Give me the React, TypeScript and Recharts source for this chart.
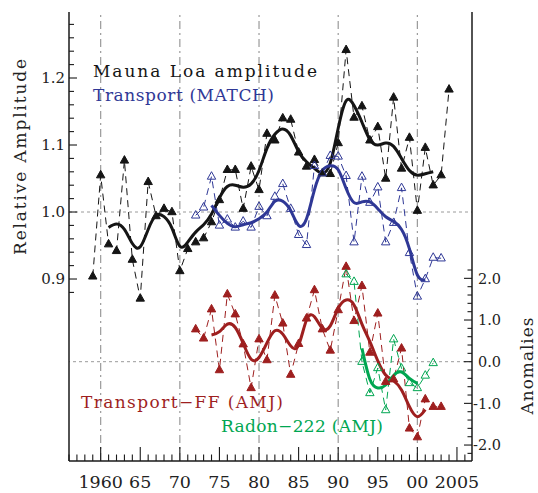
import React from 'react';
import { ComposedChart, Line, XAxis, YAxis, ReferenceLine } from 'recharts';

const FONT = '"DejaVu Serif", serif';
const AXIS = '#1a1a1a';
const BLACK = '#151515';
const BLUE = '#2f3896';
const RED = '#9e1f1f';
const GREEN = '#00a651';
const GRID = '#9a9a9a';

// Mauna Loa seasonal amplitude (relative), yearly values and smoothed fit
const maunaLoaStart = 1959;
const maunaLoaYearly = [
  0.904, 1.055, 0.952, 0.942, 1.077, 0.929, 0.871, 1.045, 0.994, 1.005, 1.0, 0.912,
  0.945, 0.955, 0.961, 0.985, 1.018, 1.063, 1.063, 1.005, 1.068, 1.033, 1.117, 1.107,
  1.14, 1.138, 1.089, 1.068, 1.078, 1.058, 1.057, 1.103, 1.242, 1.141, 1.158, 1.107,
  1.127, 1.05, 1.171, 1.065, 1.111, 1.002, 1.096, 1.04, 1.055, 1.183,
];
const maunaLoaSmoothStart = 1961;
const maunaLoaSmooth = [
  0.977, 0.982, 0.974, 0.953, 0.948, 0.974, 0.995, 0.993, 0.976, 0.949, 0.955, 0.97,
  0.981, 0.997, 1.021, 1.038, 1.04, 1.037, 1.042, 1.062, 1.095, 1.116, 1.124, 1.114,
  1.09, 1.075, 1.065, 1.058, 1.073, 1.125, 1.166, 1.159, 1.134, 1.108, 1.1, 1.103,
  1.098, 1.08, 1.062, 1.055, 1.057, 1.06,
];

// Transport (MATCH)
const matchStart = 1972;
const matchYearly = [
  0.995, 1.007, 1.053, 0.98, 0.989, 0.977, 0.986, 0.977, 1.008, 0.994, 1.023, 1.042,
  1.005, 0.966, 0.951, 1.069, 1.058, 1.084, 1.083, 1.054, 0.955, 1.053, 1.014, 1.037,
  0.955, 0.984, 1.036, 0.939, 0.874, 0.9, 0.932, 0.931,
];
const matchSmoothStart = 1974;
const matchSmooth = [
  1.01, 0.995, 0.983, 0.978, 0.981, 0.984, 0.99, 1.0, 1.016, 1.016, 1.002, 0.98,
  0.99, 1.033, 1.062, 1.069, 1.063, 1.035, 1.014, 1.015, 1.015, 1.005, 0.993, 0.986,
  0.974, 0.945, 0.906, 0.899,
];

// Transport-FF (AMJ) anomalies
const ffStart = 1972;
const ffYearly = [
  0.78, 0.56, 1.26, -0.2, 1.62, 1.14, 0.42, -0.63, 0.54, 0.04, 1.59, 0.92,
  -0.31, 0.43, 1.04, 1.72, 0.78, 0.27, 1.24, 2.28, 0.98, 1.82, 0.22, 1.16,
  -0.48, -0.42, 0.32, -1.6, -1.81, -0.9, -1.08, -1.08,
];
const ffSmoothStart = 1974;
const ffSmooth = [
  0.64, 0.72, 0.9, 0.82, 0.44, 0.06, 0.1, 0.45, 0.74, 0.66, 0.38, 0.4,
  1.0, 1.08, 0.8, 0.86, 1.28, 1.48, 1.36, 0.9, 0.48, 0.02, -0.32, -0.46,
  -0.68, -1.08, -1.32, -1.15,
];

// Radon-222 (AMJ) anomalies
const radonStart = 1991;
const radonYearly = [2.1, 1.92, 0.0, -0.75, -0.15, -1.16, 0.54, -0.16, -0.51, -0.63, -0.33, -0.03];
const radonSmoothStart = 1993;
const radonSmooth = [0.32, -0.42, -0.63, -0.56, -0.33, -0.25, -0.4, -0.52];

const firstYear = 1959;
const lastYear = 2004;

const xTickYears = [1960, 1965, 1970, 1975, 1980, 1985, 1990, 1995, 2000, 2005];
const xTickLabels = ['1960', '65', '70', '75', '80', '85', '90', '95', '00', '2005'];
const decadeLines = [1960, 1970, 1980, 1990, 2000];

const leftMajor = [0.9, 1.0, 1.1, 1.2];
const leftTicks = [
  0.88, 0.9, 0.92, 0.94, 0.96, 0.98, 1.0, 1.02, 1.04, 1.06, 1.08, 1.1, 1.12, 1.14, 1.16,
  1.18, 1.2, 1.22, 1.24, 1.26, 1.28,
];
const rightMajor = [-2, -1, 0, 1, 2];
const rightTicks = [
  -2.2, -2.0, -1.8, -1.6, -1.4, -1.2, -1.0, -0.8, -0.6, -0.4, -0.2, 0, 0.2, 0.4, 0.6, 0.8,
  1.0, 1.2, 1.4, 1.6, 1.8, 2.0, 2.2,
];

const pick = (arr: number[], start: number, year: number) => {
  const i = year - start;
  return i >= 0 && i < arr.length ? arr[i] : null;
};

const data: any[] = [];
for (let year = firstYear; year <= lastYear; year++) {
  data.push({
    year,
    mlo: pick(maunaLoaYearly, maunaLoaStart, year),
    mloFit: pick(maunaLoaSmooth, maunaLoaSmoothStart, year),
    match: pick(matchYearly, matchStart, year),
    matchFit: pick(matchSmooth, matchSmoothStart, year),
    ff: pick(ffYearly, ffStart, year),
    ffFit: pick(ffSmooth, ffSmoothStart, year),
    radon: pick(radonYearly, radonStart, year),
    radonFit: pick(radonSmooth, radonSmoothStart, year),
  });
}

const allYears: number[] = [];
for (let y = 1956; y <= 2006; y++) allYears.push(y);

const near = (a: number, list: number[]) => list.some((b) => Math.abs(a - b) < 1e-6);

const triangle = (color: string, filled: boolean) => (p: any) => {
  const { cx, cy, index } = p;
  if (cx == null || cy == null || p.value == null) return <g key={`e-${index}`} />;
  const pts = `${cx},${cy - 4.8} ${cx - 4.2},${cy + 2.7} ${cx + 4.2},${cy + 2.7}`;
  return (
    <polygon
      key={`t-${index}`}
      points={pts}
      fill={filled ? color : '#fff'}
      fillOpacity={filled ? 1 : 0}
      stroke={color}
      strokeWidth={1}
    />
  );
};

const BottomTick = (props: any) => {
  const { x, y, payload } = props;
  const v = payload.value;
  const major = v % 5 === 0;
  const idx = xTickYears.indexOf(v);
  return (
    <g>
      <line x1={x} x2={x} y1={y} y2={y - (major ? 14 : 6.5)} stroke={AXIS} strokeWidth={1.1} />
      {idx >= 0 && (
        <text x={x} y={y + 27} textAnchor="middle" fontSize={17.5} fontFamily={FONT} fill="#222">
          {xTickLabels[idx]}
        </text>
      )}
    </g>
  );
};

const TopTick = (props: any) => {
  const { x, y, payload } = props;
  const major = payload.value % 5 === 0;
  return <line x1={x} x2={x} y1={y} y2={y + (major ? 14 : 6.5)} stroke={AXIS} strokeWidth={1.1} />;
};

const LeftTick = (props: any) => {
  const { x, y, payload } = props;
  const v = payload.value;
  const major = near(v, leftMajor);
  return (
    <g>
      <line x1={x} x2={x + (major ? 8 : 5)} y1={y} y2={y} stroke={AXIS} strokeWidth={1.1} />
      {major && (
        <text x={x - 4} y={y + 5.4} textAnchor="end" fontSize={15} fontFamily={FONT} fill="#222">
          {v.toFixed(1)}
        </text>
      )}
    </g>
  );
};

const RightTick = (props: any) => {
  const { x, y, payload } = props;
  const v = payload.value;
  const major = near(v, rightMajor);
  const num = Math.abs(v).toFixed(1);
  return (
    <g>
      <line x1={x} x2={x - (major ? 8 : 4.5)} y1={y} y2={y} stroke={AXIS} strokeWidth={1.1} />
      {major && (
        <text x={x + 29} y={y + 5.2} textAnchor="end" fontSize={14.5} fontFamily={FONT} fill="#222">
          {v < 0 ? `-${num}` : num}
        </text>
      )}
    </g>
  );
};

const textStyle = { fontFamily: FONT, fontSize: 17 };

export default function App() {
  return (
    <div style={{ position: 'fixed', left: 0, top: 0, width: 538, height: 493, background: '#fff' }}>
      <ComposedChart width={538} height={493} data={data} margin={{ top: 12, right: 0, bottom: 0, left: 0 }}>
        <XAxis
          dataKey="year"
          type="number"
          domain={[1956, 2006.9]}
          allowDataOverflow
          ticks={allYears}
          interval={0}
          tick={<BottomTick />}
          tickLine={false}
          tickSize={0}
          tickMargin={0}
          height={32}
          axisLine={{ stroke: AXIS, strokeWidth: 1.5 }}
        />
        <XAxis
          xAxisId="top"
          orientation="top"
          dataKey="year"
          type="number"
          domain={[1956, 2006.9]}
          allowDataOverflow
          ticks={allYears}
          interval={0}
          tick={<TopTick />}
          tickLine={false}
          tickSize={0}
          tickMargin={0}
          height={0}
          axisLine={{ stroke: AXIS, strokeWidth: 1.5 }}
        />
        <YAxis
          yAxisId="left"
          domain={[0.6284, 1.2985]}
          allowDataOverflow
          ticks={leftTicks}
          interval={0}
          tick={<LeftTick />}
          tickLine={false}
          tickSize={0}
          tickMargin={0}
          width={69}
          axisLine={{ stroke: AXIS, strokeWidth: 1.5 }}
        />
        <YAxis
          yAxisId="right"
          orientation="right"
          domain={[-2.383, 8.391]}
          allowDataOverflow
          ticks={rightTicks}
          interval={0}
          tick={<RightTick />}
          tickLine={false}
          tickSize={0}
          tickMargin={0}
          width={66}
          axisLine={{ stroke: AXIS, strokeWidth: 1.5 }}
        />

        {decadeLines.map((yr) => (
          <ReferenceLine key={yr} x={yr} yAxisId="left" stroke={GRID} strokeWidth={1.2} strokeDasharray="8 4 2 4" />
        ))}
        <ReferenceLine y={1.0} yAxisId="left" stroke={GRID} strokeWidth={1} strokeDasharray="3 3" />
        <ReferenceLine y={0} yAxisId="right" stroke={GRID} strokeWidth={1} strokeDasharray="3 3" />

        <Line yAxisId="left" dataKey="mlo" stroke={BLACK} strokeWidth={1} strokeDasharray="7 5" dot={triangle(BLACK, true)} activeDot={false} isAnimationActive={false} />
        <Line yAxisId="left" dataKey="match" stroke={BLUE} strokeWidth={1} strokeDasharray="7 5" dot={triangle(BLUE, false)} activeDot={false} isAnimationActive={false} />
        <Line yAxisId="right" dataKey="ff" stroke={RED} strokeWidth={1} strokeDasharray="7 5" dot={triangle(RED, true)} activeDot={false} isAnimationActive={false} />
        <Line yAxisId="right" dataKey="radon" stroke={GREEN} strokeWidth={1} strokeDasharray="7 5" dot={triangle(GREEN, false)} activeDot={false} isAnimationActive={false} />

        <Line yAxisId="left" type="natural" dataKey="mloFit" stroke={BLACK} strokeWidth={3} dot={false} activeDot={false} isAnimationActive={false} />
        <Line yAxisId="left" type="natural" dataKey="matchFit" stroke={BLUE} strokeWidth={3} dot={false} activeDot={false} isAnimationActive={false} />
        <Line yAxisId="right" type="natural" dataKey="ffFit" stroke={RED} strokeWidth={3} dot={false} activeDot={false} isAnimationActive={false} />
        <Line yAxisId="right" type="natural" dataKey="radonFit" stroke={GREEN} strokeWidth={3} dot={false} activeDot={false} isAnimationActive={false} />
      </ComposedChart>
      <svg width={538} height={493} style={{ position: 'absolute', left: 0, top: 0, pointerEvents: 'none' }}>
        <text x={93} y={77} fill={BLACK} textLength={224} lengthAdjust="spacing" {...textStyle}>
          Mauna Loa amplitude
        </text>
        <text x={93} y={101} fill={BLUE} textLength={181} lengthAdjust="spacing" {...textStyle}>
          Transport (MATCH)
        </text>
        <text x={81} y={408} fill={RED} textLength={202} lengthAdjust="spacing" {...textStyle}>
          Transport{'\u2212'}FF (AMJ)
        </text>
        <text x={221} y={432} fill={GREEN} textLength={162} lengthAdjust="spacing" {...textStyle}>
          Radon{'\u2212'}222 (AMJ)
        </text>
        <text transform="translate(26,157) rotate(-90)" textAnchor="middle" fill="#222" textLength={196} lengthAdjust="spacing" {...textStyle}>
          Relative Amplitude
        </text>
        <text transform="translate(533,366) rotate(-90)" textAnchor="middle" fill="#222" textLength={97} lengthAdjust="spacing" {...textStyle}>
          Anomalies
        </text>
      </svg>
    </div>
  );
}
